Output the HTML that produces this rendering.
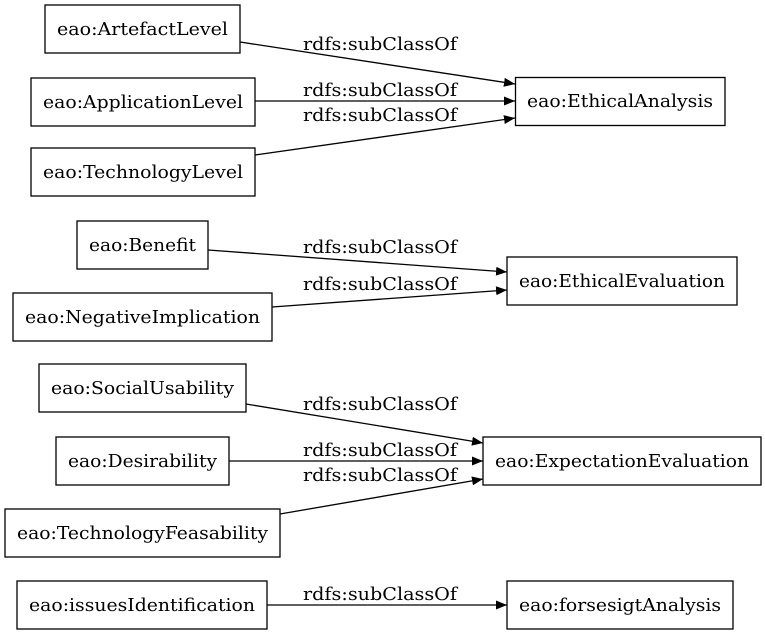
<!DOCTYPE html>
<html><head><style>html,body{margin:0;padding:0;background:#fff}</style></head>
<body>
<svg width="765" height="635" viewBox="0 0 765 635" xmlns="http://www.w3.org/2000/svg" font-family="DejaVu Serif, serif" font-size="18">
<defs><marker id="a" markerWidth="11" markerHeight="9" refX="11" refY="4.5" orient="auto" markerUnits="userSpaceOnUse"><polygon points="0,0 11,4.5 0,9" fill="#000"/></marker></defs>
<g fill="#fff" stroke="#000" stroke-width="1.3">
<rect x="45" y="5" width="195" height="48"/>
<rect x="31" y="78" width="224" height="48"/>
<rect x="31" y="148" width="224" height="48"/>
<rect x="515.5" y="77.5" width="209.5" height="48"/>
<rect x="77" y="221" width="131" height="48"/>
<rect x="13" y="293" width="259" height="48"/>
<rect x="507" y="257" width="230" height="48"/>
<rect x="39" y="364" width="207" height="48"/>
<rect x="56" y="437" width="173" height="48"/>
<rect x="5" y="509" width="275" height="48"/>
<rect x="483" y="437" width="278" height="48"/>
<rect x="17" y="581" width="250" height="48"/>
<rect x="507" y="581" width="226" height="48"/>
</g>
<g stroke="#000" stroke-width="1.3" fill="none" marker-end="url(#a)">
<line x1="240" y1="42" x2="515" y2="84"/>
<line x1="255" y1="101" x2="515" y2="101"/>
<line x1="255" y1="155" x2="515" y2="118"/>
<line x1="208" y1="250" x2="507" y2="272"/>
<line x1="272" y1="307" x2="507" y2="290"/>
<line x1="246" y1="404" x2="483" y2="443"/>
<line x1="229" y1="461" x2="483" y2="461"/>
<line x1="280" y1="514" x2="483" y2="479"/>
<line x1="267" y1="605" x2="507" y2="605"/>
</g>
<g text-anchor="middle" lengthAdjust="spacingAndGlyphs">
<text x="142.5" y="35" textLength="171" lengthAdjust="spacingAndGlyphs">eao:ArtefactLevel</text>
<text x="143" y="108" textLength="200" lengthAdjust="spacingAndGlyphs">eao:ApplicationLevel</text>
<text x="143" y="178" textLength="200" lengthAdjust="spacingAndGlyphs">eao:TechnologyLevel</text>
<text x="620" y="107" textLength="186" lengthAdjust="spacingAndGlyphs">eao:EthicalAnalysis</text>
<text x="142.5" y="251" textLength="107" lengthAdjust="spacingAndGlyphs">eao:Benefit</text>
<text x="142.5" y="323" textLength="235" lengthAdjust="spacingAndGlyphs">eao:NegativeImplication</text>
<text x="622" y="287" textLength="206" lengthAdjust="spacingAndGlyphs">eao:EthicalEvaluation</text>
<text x="142.5" y="394" textLength="183" lengthAdjust="spacingAndGlyphs">eao:SocialUsability</text>
<text x="142.5" y="467" textLength="149" lengthAdjust="spacingAndGlyphs">eao:Desirability</text>
<text x="142.5" y="539" textLength="251" lengthAdjust="spacingAndGlyphs">eao:TechnologyFeasability</text>
<text x="622" y="467" textLength="254" lengthAdjust="spacingAndGlyphs">eao:ExpectationEvaluation</text>
<text x="142" y="611" textLength="226" lengthAdjust="spacingAndGlyphs">eao:issuesIdentification</text>
<text x="620" y="611" textLength="202" lengthAdjust="spacingAndGlyphs">eao:forsesigtAnalysis</text>
</g>
<g text-anchor="middle">
<text x="380" y="50" textLength="154" lengthAdjust="spacingAndGlyphs">rdfs:subClassOf</text>
<text x="380" y="96" textLength="154" lengthAdjust="spacingAndGlyphs">rdfs:subClassOf</text>
<text x="380" y="121" textLength="154" lengthAdjust="spacingAndGlyphs">rdfs:subClassOf</text>
<text x="380" y="253" textLength="154" lengthAdjust="spacingAndGlyphs">rdfs:subClassOf</text>
<text x="380" y="290" textLength="154" lengthAdjust="spacingAndGlyphs">rdfs:subClassOf</text>
<text x="380" y="410" textLength="154" lengthAdjust="spacingAndGlyphs">rdfs:subClassOf</text>
<text x="380" y="456" textLength="154" lengthAdjust="spacingAndGlyphs">rdfs:subClassOf</text>
<text x="380" y="481" textLength="154" lengthAdjust="spacingAndGlyphs">rdfs:subClassOf</text>
<text x="380" y="600" textLength="154" lengthAdjust="spacingAndGlyphs">rdfs:subClassOf</text>
</g>
</svg>
</body></html>
